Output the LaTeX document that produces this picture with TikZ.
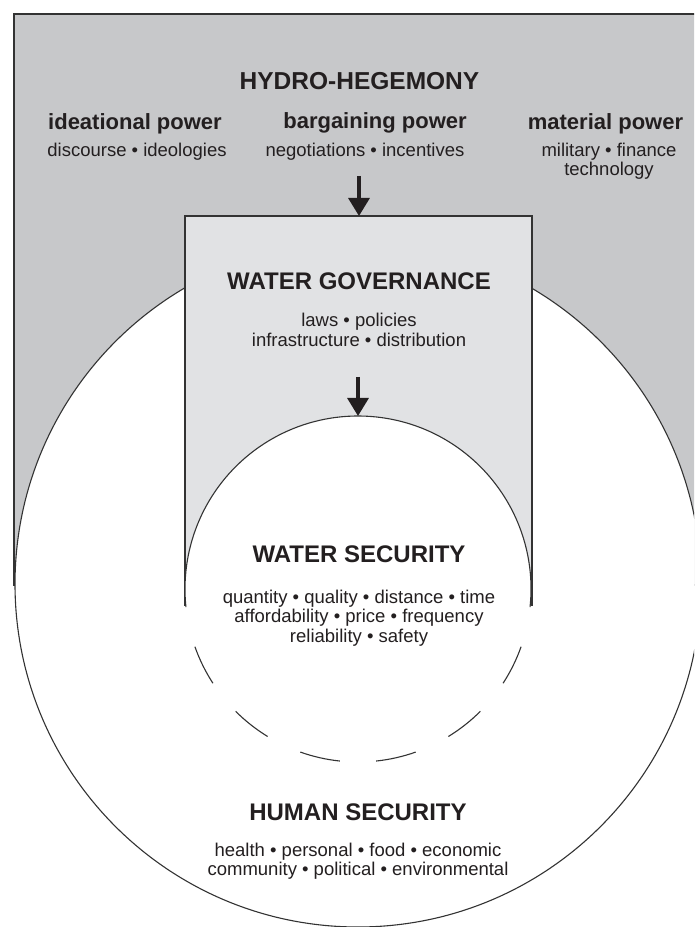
\documentclass[tikz,border=0pt]{standalone}
\usepackage{fontspec}
\setmainfont{Liberation Sans}
\usetikzlibrary{arrows.meta}

\definecolor{hegemonygray}{HTML}{C7C8CA}
\definecolor{governgray}{HTML}{E1E2E4}
\definecolor{inkdark}{HTML}{231F20}

\begin{document}
\begin{tikzpicture}[x=1pt, y=1pt]

  % Define styles
  \tikzset{
    frame/.style={draw=black!80, line width=1.1pt},
    title/.style={font=\fontsize{24.5}{28}\selectfont\bfseries, text=inkdark, inner sep=0pt, anchor=base},
    head/.style={font=\fontsize{22}{26}\selectfont\bfseries, text=inkdark, inner sep=0pt, anchor=base},
    items/.style={font=\fontsize{18.5}{19.7}\selectfont, text=inkdark, inner sep=0pt, anchor=base, align=center},
    flow/.style={-{Triangle[length=18pt,width=21pt]}, line width=3.3pt, inkdark}
  }

  \useasboundingbox (0,0) rectangle (694,927);
  \clip (0,0) rectangle (694,927);

%% Hydro-hegemony field
  \filldraw[frame, fill=hegemonygray] (14,342) rectangle (710,913);

%% Human security circle
  \filldraw[frame, fill=white] (358,343) circle[radius=343];

%% Water governance box (open at the bottom)
  \fill[governgray] (185,336) rectangle (532,711);
  \draw[frame] (185,321) -- (185,711) -- (532,711) -- (532,321);

%% Water security circle: solid upper part, dashed lower part
  \fill[white] (358,338) circle[radius=173];
  \draw[frame] (358,338) ++(-6:173) arc[start angle=-6, end angle=186, radius=173];
  \foreach \a in {199.5,225,250.5,276,301.5,327}
    \draw[frame] (358,338) ++(\a:173) arc[start angle=\a, delta angle=13.5, radius=173];

  % Arrow anchors
  \coordinate (hh arrow) at (359,751);
  \coordinate (gov top) at (359,711);
  \coordinate (gov arrow) at (358,550);
  \coordinate (ws top) at (358,511);

  \draw[flow] (hh arrow) -- (gov top);
  \draw[flow] (gov arrow) -- (ws top);

  % Hydro-hegemony labels (multi-line nodes sit on their last line)
  \node[title] (hh) at (359.5,837.7) {HYDRO-HEGEMONY};
  \node[head] (ideational) at (135,797) {ideational power};
  \node[head] (bargaining) at (375,798) {bargaining power};
  \node[head] (material) at (605.5,797) {material power};
  \node[items] (ideational items) at (137,770.3) {discourse • ideologies};
  \node[items] (bargaining items) at (365,770.3) {negotiations • incentives};
  \node[items] (material items) at (609,751) {military • finance\\technology};

  % Water governance labels
  \node[title, font=\fontsize{24}{28}\selectfont\bfseries] (gov) at (359,637) {WATER GOVERNANCE};
  \node[items] (gov items) at (359,580.5) {laws • policies\\infrastructure • distribution};

  % Water security labels
  \node[title, font=\fontsize{24}{28}\selectfont\bfseries] (ws) at (359,364.7) {WATER SECURITY};
  \node[items] (ws items) at (359,284.3)
    {quantity • quality • distance • time\\affordability • price • frequency\\reliability • safety};

  % Human security labels
  \node[title, font=\fontsize{24}{28}\selectfont\bfseries] (hs) at (358,106.3) {HUMAN SECURITY};
  \node[items] (hs items) at (358,51)
    {health • personal • food • economic\\community • political • environmental};

\end{tikzpicture}
\end{document}
